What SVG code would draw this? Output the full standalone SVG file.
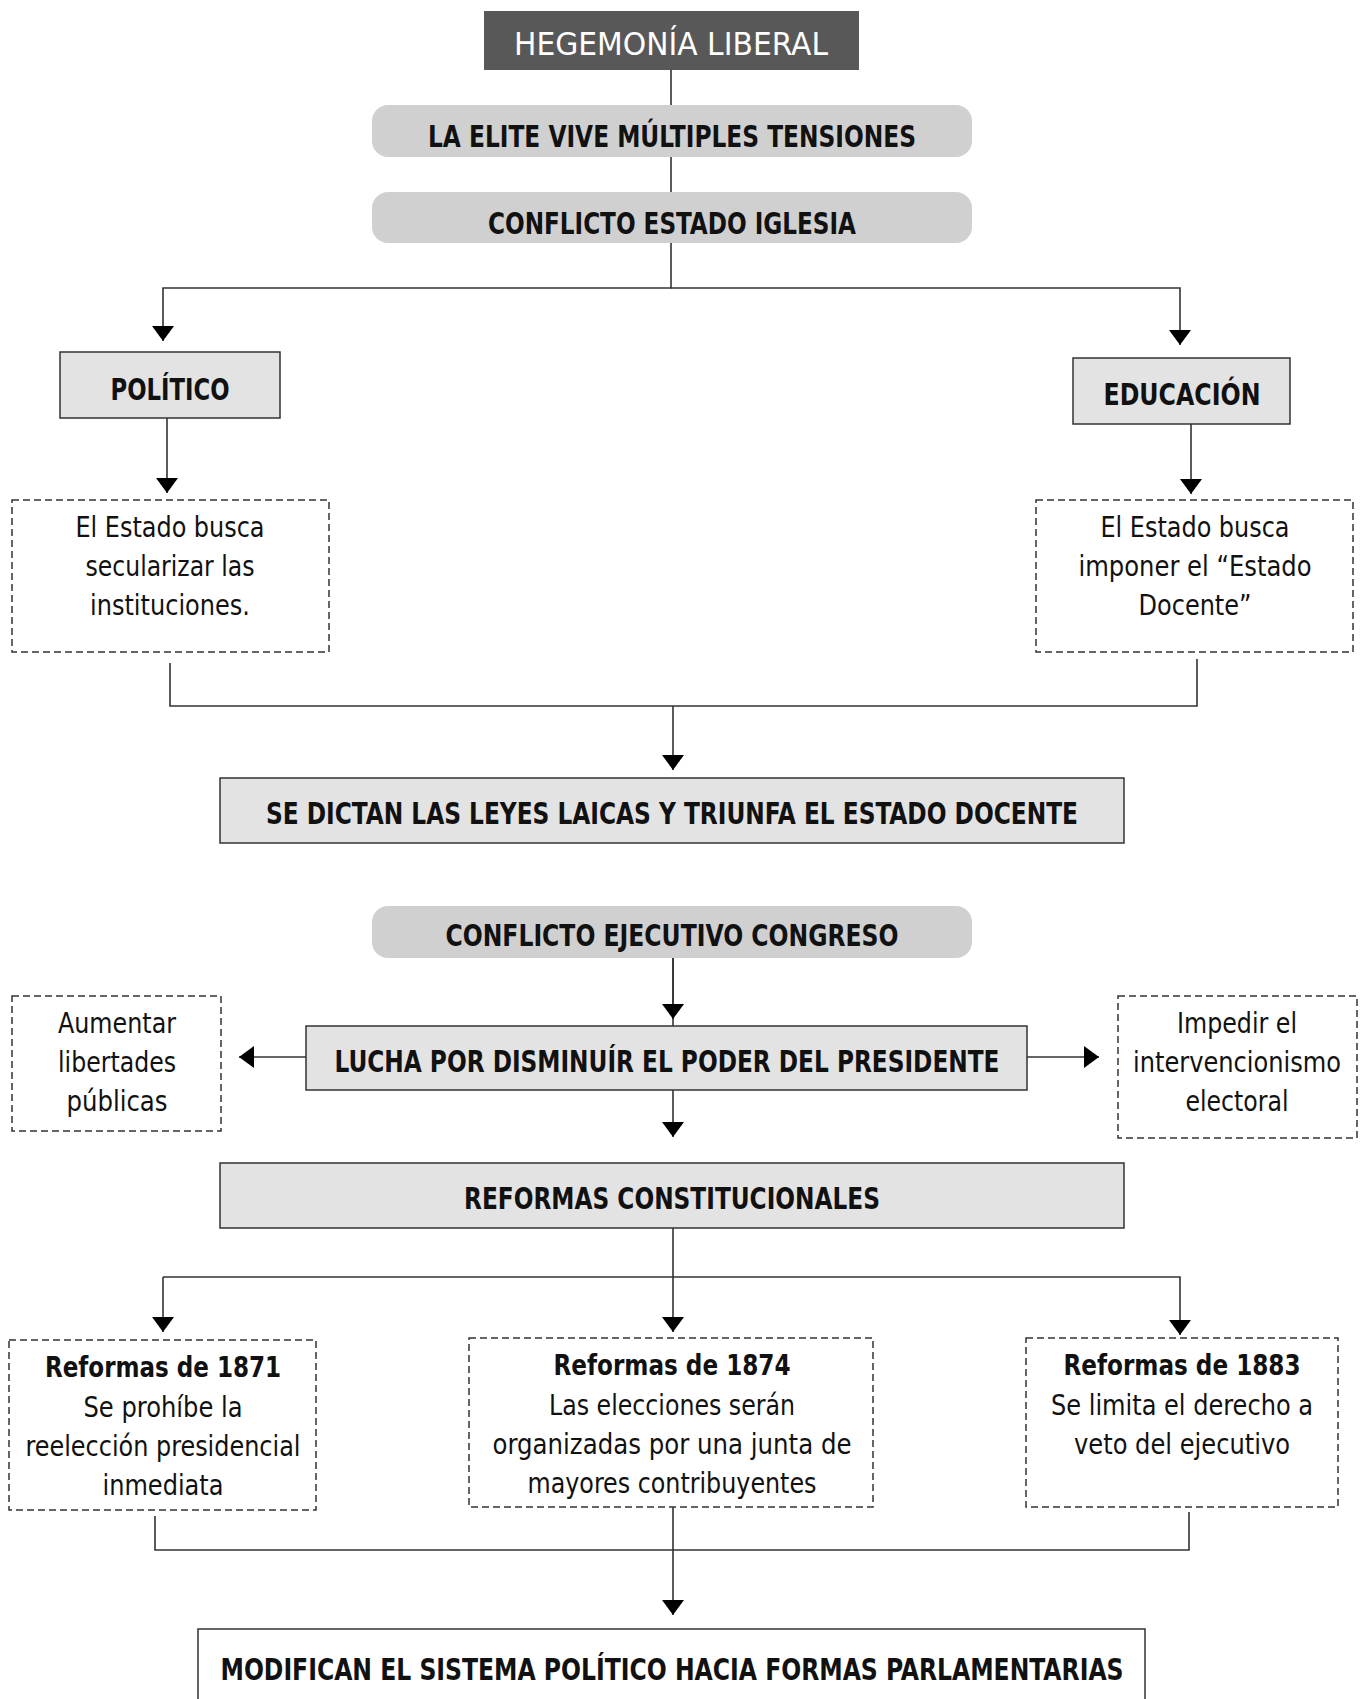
<svg xmlns="http://www.w3.org/2000/svg" width="1362" height="1699" viewBox="0 0 1362 1699">
<style>
text{font-family:"Liberation Sans Narrow","DejaVu Sans Condensed","Liberation Sans",sans-serif;text-anchor:middle;fill:#111}
.h{font-weight:bold;font-size:30px}
.b{font-size:29px}
.bb{font-weight:bold;font-size:29px}
.pill{fill:#d0d0d0}
.box{fill:#e3e3e3;stroke:#333;stroke-width:1.5}
.dash{fill:#fff;stroke:#333;stroke-width:1.5;stroke-dasharray:7 4}
.ln{fill:none;stroke:#333;stroke-width:1.6}
</style>
<defs>
<marker id="ah" markerUnits="userSpaceOnUse" markerWidth="15" markerHeight="22" viewBox="0 0 15 22" refX="15" refY="11" orient="auto">
<path d="M0,0 L15,11 L0,22 Z" fill="#000"/>
</marker>
</defs>
<rect width="1362" height="1699" fill="#fff"/>
<g id="connectors">
<path class="ln" d="M671,70 V105"/>
<path class="ln" d="M671,157 V192"/>
<path class="ln" d="M671,243 V288 H163 V341" marker-end="url(#ah)"/>
<path class="ln" d="M671,288 H1180 V345" marker-end="url(#ah)"/>
<path class="ln" d="M167,418 V493" marker-end="url(#ah)"/>
<path class="ln" d="M1191,424 V494" marker-end="url(#ah)"/>
<path class="ln" d="M170,663 V706 H1197 V659"/>
<path class="ln" d="M673,706 V770" marker-end="url(#ah)"/>
<path class="ln" d="M673,958 V1026"/>
<path class="ln" d="M673,958 V1019" marker-end="url(#ah)"/>
<path class="ln" d="M306,1057 H239" marker-end="url(#ah)"/>
<path class="ln" d="M1027,1057 H1099" marker-end="url(#ah)"/>
<path class="ln" d="M673,1090 V1137" marker-end="url(#ah)"/>
<path class="ln" d="M673,1228 V1332" marker-end="url(#ah)"/>
<path class="ln" d="M163,1277 V1332" marker-end="url(#ah)"/>
<path class="ln" d="M163,1277 H1180 V1335" marker-end="url(#ah)"/>
<path class="ln" d="M155,1516 V1550 H1189 V1512"/>
<path class="ln" d="M673,1507 V1615" marker-end="url(#ah)"/>
</g>
<g id="n-hegemonia">
<rect x="484" y="11" width="375" height="59" fill="#585858"/>
<text x="671" y="55" style="fill:#fff;font-size:32px" textLength="314" lengthAdjust="spacingAndGlyphs">HEGEMONÍA LIBERAL</text>
</g>
<g id="n-elite">
<rect class="pill" x="372" y="105" width="600" height="52" rx="16"/>
<text class="h" x="672" y="147" textLength="488" lengthAdjust="spacingAndGlyphs">LA ELITE VIVE MÚLTIPLES TENSIONES</text>
</g>
<g id="n-conflicto-iglesia">
<rect class="pill" x="372" y="192" width="600" height="51" rx="16"/>
<text class="h" x="672" y="234" textLength="368" lengthAdjust="spacingAndGlyphs">CONFLICTO ESTADO IGLESIA</text>
</g>
<g id="n-politico">
<rect class="box" x="60" y="352" width="220" height="66"/>
<text class="h" x="170" y="400" textLength="119" lengthAdjust="spacingAndGlyphs">POLÍTICO</text>
</g>
<g id="n-educacion">
<rect class="box" x="1073" y="358" width="217" height="66"/>
<text class="h" x="1182" y="405" textLength="157" lengthAdjust="spacingAndGlyphs">EDUCACIÓN</text>
</g>
<g id="n-secularizar">
<rect class="dash" x="12" y="500" width="317" height="152"/>
<text class="b" x="170" y="537" textLength="189" lengthAdjust="spacingAndGlyphs">El Estado busca</text>
<text class="b" x="170" y="576" textLength="169" lengthAdjust="spacingAndGlyphs">secularizar las</text>
<text class="b" x="170" y="615" textLength="160" lengthAdjust="spacingAndGlyphs">instituciones.</text>
</g>
<g id="n-imponer">
<rect class="dash" x="1036" y="500" width="317" height="152"/>
<text class="b" x="1195" y="537" textLength="189" lengthAdjust="spacingAndGlyphs">El Estado busca</text>
<text class="b" x="1195" y="576" textLength="233" lengthAdjust="spacingAndGlyphs">imponer el “Estado</text>
<text class="b" x="1195" y="615" textLength="113" lengthAdjust="spacingAndGlyphs">Docente”</text>
</g>
<g id="n-leyes">
<rect class="box" x="220" y="778" width="904" height="65"/>
<text class="h" x="672" y="824" textLength="812" lengthAdjust="spacingAndGlyphs">SE DICTAN LAS LEYES LAICAS Y TRIUNFA EL ESTADO DOCENTE</text>
</g>
<g id="n-conflicto-congreso">
<rect class="pill" x="372" y="906" width="600" height="52" rx="16"/>
<text class="h" x="672" y="946" textLength="453" lengthAdjust="spacingAndGlyphs">CONFLICTO EJECUTIVO CONGRESO</text>
</g>
<g id="n-lucha">
<rect class="box" x="306" y="1026" width="721" height="64"/>
<text class="h" x="667" y="1072" textLength="665" lengthAdjust="spacingAndGlyphs">LUCHA POR DISMINUÍR EL PODER DEL PRESIDENTE</text>
</g>
<g id="n-aumentar">
<rect class="dash" x="12" y="996" width="209" height="135"/>
<text class="b" x="117" y="1033" textLength="118" lengthAdjust="spacingAndGlyphs">Aumentar</text>
<text class="b" x="117" y="1072" textLength="118" lengthAdjust="spacingAndGlyphs">libertades</text>
<text class="b" x="117" y="1111" textLength="101" lengthAdjust="spacingAndGlyphs">públicas</text>
</g>
<g id="n-impedir">
<rect class="dash" x="1118" y="996" width="239" height="142"/>
<text class="b" x="1237" y="1033" textLength="120" lengthAdjust="spacingAndGlyphs">Impedir el</text>
<text class="b" x="1237" y="1072" textLength="208" lengthAdjust="spacingAndGlyphs">intervencionismo</text>
<text class="b" x="1237" y="1111" textLength="103" lengthAdjust="spacingAndGlyphs">electoral</text>
</g>
<g id="n-reformas">
<rect class="box" x="220" y="1163" width="904" height="65"/>
<text class="h" x="672" y="1209" textLength="416" lengthAdjust="spacingAndGlyphs">REFORMAS CONSTITUCIONALES</text>
</g>
<g id="n-1871">
<rect class="dash" x="9" y="1340" width="307" height="170"/>
<text class="bb" x="163" y="1377" textLength="236" lengthAdjust="spacingAndGlyphs">Reformas de 1871</text>
<text class="b" x="163" y="1417" textLength="159" lengthAdjust="spacingAndGlyphs">Se prohíbe la</text>
<text class="b" x="163" y="1456" textLength="275" lengthAdjust="spacingAndGlyphs">reelección presidencial</text>
<text class="b" x="163" y="1495" textLength="121" lengthAdjust="spacingAndGlyphs">inmediata</text>
</g>
<g id="n-1874">
<rect class="dash" x="469" y="1338" width="404" height="169"/>
<text class="bb" x="672" y="1375" textLength="237" lengthAdjust="spacingAndGlyphs">Reformas de 1874</text>
<text class="b" x="672" y="1415" textLength="246" lengthAdjust="spacingAndGlyphs">Las elecciones serán</text>
<text class="b" x="672" y="1454" textLength="359" lengthAdjust="spacingAndGlyphs">organizadas por una junta de</text>
<text class="b" x="672" y="1493" textLength="289" lengthAdjust="spacingAndGlyphs">mayores contribuyentes</text>
</g>
<g id="n-1883">
<rect class="dash" x="1026" y="1338" width="312" height="169"/>
<text class="bb" x="1182" y="1375" textLength="237" lengthAdjust="spacingAndGlyphs">Reformas de 1883</text>
<text class="b" x="1182" y="1415" textLength="262" lengthAdjust="spacingAndGlyphs">Se limita el derecho a</text>
<text class="b" x="1182" y="1454" textLength="216" lengthAdjust="spacingAndGlyphs">veto del ejecutivo</text>
</g>
<g id="n-modifican">
<rect x="198" y="1629" width="947" height="90" fill="#fff" stroke="#333" stroke-width="1.5"/>
<text class="h" x="672" y="1680" textLength="903" lengthAdjust="spacingAndGlyphs">MODIFICAN EL SISTEMA POLÍTICO HACIA FORMAS PARLAMENTARIAS</text>
</g>
</svg>
